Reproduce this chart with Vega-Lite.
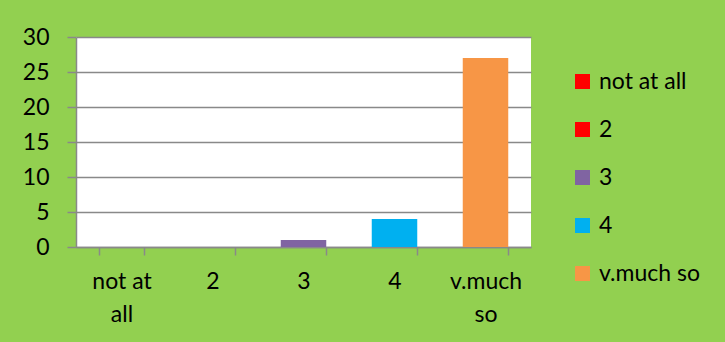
{
  "$schema": "https://vega.github.io/schema/vega-lite/v6.json",
  "width": 455,
  "height": 210,
  "autosize": {"type": "none"},
  "padding": {"left": 76, "top": 37, "right": 194, "bottom": 95},
  "background": "#92D050",
  "config": {
    "font": "Lato",
    "view": {"fill": "white", "stroke": null},
    "axis": {
      "labelFont": "Lato",
      "labelFontSize": 23,
      "labelColor": "black",
      "domainColor": "#898989",
      "domainWidth": 1.5,
      "tickColor": "#898989",
      "tickWidth": 1.5,
      "gridColor": "#898989",
      "gridWidth": 1.5,
      "title": null
    }
  },
  "data": {
    "values": [
      {"answer": "not at all", "count": 0},
      {"answer": "2", "count": 0},
      {"answer": "3", "count": 1},
      {"answer": "4", "count": 4},
      {"answer": "v.much so", "count": 27}
    ]
  },
  "mark": {"type": "bar"},
  "encoding": {
    "x": {
      "field": "answer",
      "type": "nominal",
      "sort": null,
      "scale": {"paddingInner": 0.5, "paddingOuter": 0.25},
      "axis": {
        "labelAngle": 0,
        "tickBand": "extent",
        "tickSize": 8,
        "labelPadding": 15,
        "labelLineHeight": 33,
        "labelLimit": 0,
        "labelBaseline": "top",
        "labelExpr": "datum.value == 'not at all' ? ['not at', 'all'] : datum.value == 'v.much so' ? ['v.much', 'so'] : datum.value",
        "grid": false
      }
    },
    "y": {
      "field": "count",
      "type": "quantitative",
      "scale": {"domain": [0, 30], "nice": false},
      "axis": {
        "values": [0, 5, 10, 15, 20, 25, 30],
        "tickSize": 9,
        "labelPadding": 18,
        "grid": true
      }
    },
    "color": {
      "field": "answer",
      "type": "nominal",
      "sort": null,
      "scale": {
        "domain": ["not at all", "2", "3", "4", "v.much so"],
        "range": ["#FF0000", "#FF0000", "#8064A2", "#00B0F0", "#F79646"]
      },
      "legend": {
        "title": null,
        "orient": "none",
        "legendX": 495,
        "legendY": 33,
        "padding": 0,
        "symbolType": "square",
        "symbolSize": 225,
        "symbolStrokeWidth": 0,
        "labelFont": "Lato",
        "labelFontSize": 23,
        "labelColor": "black",
        "labelOffset": 5,
        "labelLimit": 0,
        "rowPadding": 24
      }
    }
  }
}
